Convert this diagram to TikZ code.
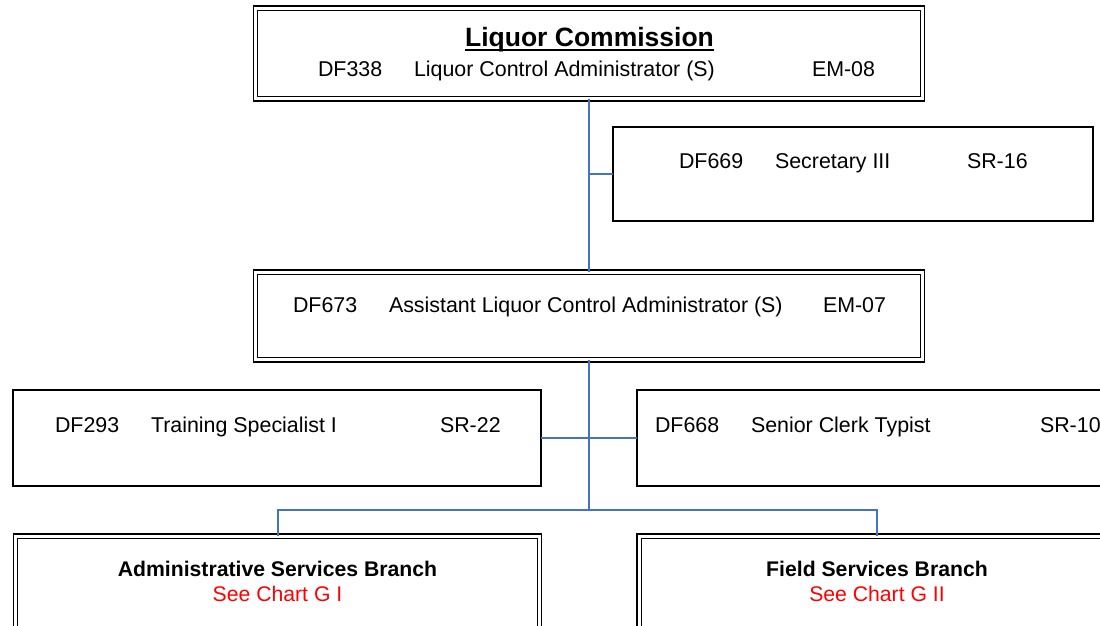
\documentclass[tikz,border=0pt]{standalone}
\usepackage{fontspec}
\setmainfont{Liberation Sans}
\definecolor{conn}{RGB}{68,114,196}
\definecolor{seered}{RGB}{255,0,0}
\tikzset{
  dbox/.style={draw=black, double=white, double distance=2.6pt, line width=1.5pt,
    rectangle, inner sep=0pt, outer sep=0pt, anchor=north west},
  sbox/.style={draw=black, line width=1.5pt, rectangle, inner sep=0pt, outer sep=0pt, anchor=north west},
  conn/.style={draw=conn, line width=2pt},
  txt/.style={inner sep=0pt, outer sep=0pt, anchor=base west, font=\fontsize{21.4}{25}\selectfont},
  ctxt/.style={inner sep=0pt, outer sep=0pt, anchor=base, font=\fontsize{21.2}{25}\selectfont},
}
\begin{document}
\begin{tikzpicture}[x=1pt,y=-1pt]
\useasboundingbox (0,0) rectangle (1100,626);
\clip (0,0) rectangle (1100,626);
% boxes
\node[dbox, minimum width=667pt, minimum height=90.5pt] (top) at (255.5,8.25) {};
\node[sbox, minimum width=480pt, minimum height=94pt] (sec) at (613,127) {};
\node[dbox, minimum width=667pt, minimum height=87.5pt] (asst) at (255.5,272.25) {};
\node[sbox, minimum width=528pt, minimum height=96pt] (train) at (13,390) {};
\node[sbox, minimum width=480pt, minimum height=96pt] (senior) at (637,390) {};
\node[dbox, minimum width=524pt, minimum height=100pt] (admin) at (15.5,536.25) {};
\node[dbox, minimum width=476pt, minimum height=100pt] (field) at (639.25,536.25) {};
% connectors
\coordinate (branch) at (589,510);
\draw[conn] (top.south) -- (asst.north);
\draw[conn] (top.south |- sec.west) -- (sec.west);
\draw[conn] (asst.south) -- (branch);
\draw[conn] (train.east) -- (senior.west);
\draw[conn] (admin.north) |- (branch) -| (field.north);
% texts
\node[ctxt, font=\fontsize{26.5}{30}\selectfont\bfseries] (title) at (589.5,47) {Liquor Commission};
\draw[line width=1.8pt] ([yshift=-3pt]title.base west) -- ([yshift=-3pt]title.base east);
\node[txt] (t1) at (318,77) {DF338};
\node[txt] (t2) at (414,77) {Liquor Control Administrator (S)};
\node[txt] (t3) at (812,77) {EM-08};
\node[txt] (s1) at (679,168) {DF669};
\node[txt] (s2) at (775,168) {Secretary III};
\node[txt] (s3) at (967,168) {SR-16};
\node[txt] (a1) at (293,312) {DF673};
\node[txt] (a2) at (389,312) {Assistant Liquor Control Administrator (S)};
\node[txt] (a3) at (823,312) {EM-07};
\node[txt] (r1) at (55,432) {DF293};
\node[txt] (r2) at (151,432) {Training Specialist I};
\node[txt] (r3) at (440,432) {SR-22};
\node[txt] (c1) at (655,432) {DF668};
\node[txt] (c2) at (751,432) {Senior Clerk Typist};
\node[txt] (c3) at (1040,432) {SR-10};
\node[ctxt, font=\fontsize{21.2}{25}\selectfont\bfseries] (b1) at (277.5,576) {Administrative Services Branch};
\node[ctxt, text=seered] (b2) at (277.5,601) {See Chart G I};
\node[ctxt, font=\fontsize{21.2}{25}\selectfont\bfseries] (f1) at (877,576) {Field Services Branch};
\node[ctxt, text=seered] (f2) at (877,601) {See Chart G II};
\end{tikzpicture}
\end{document}
